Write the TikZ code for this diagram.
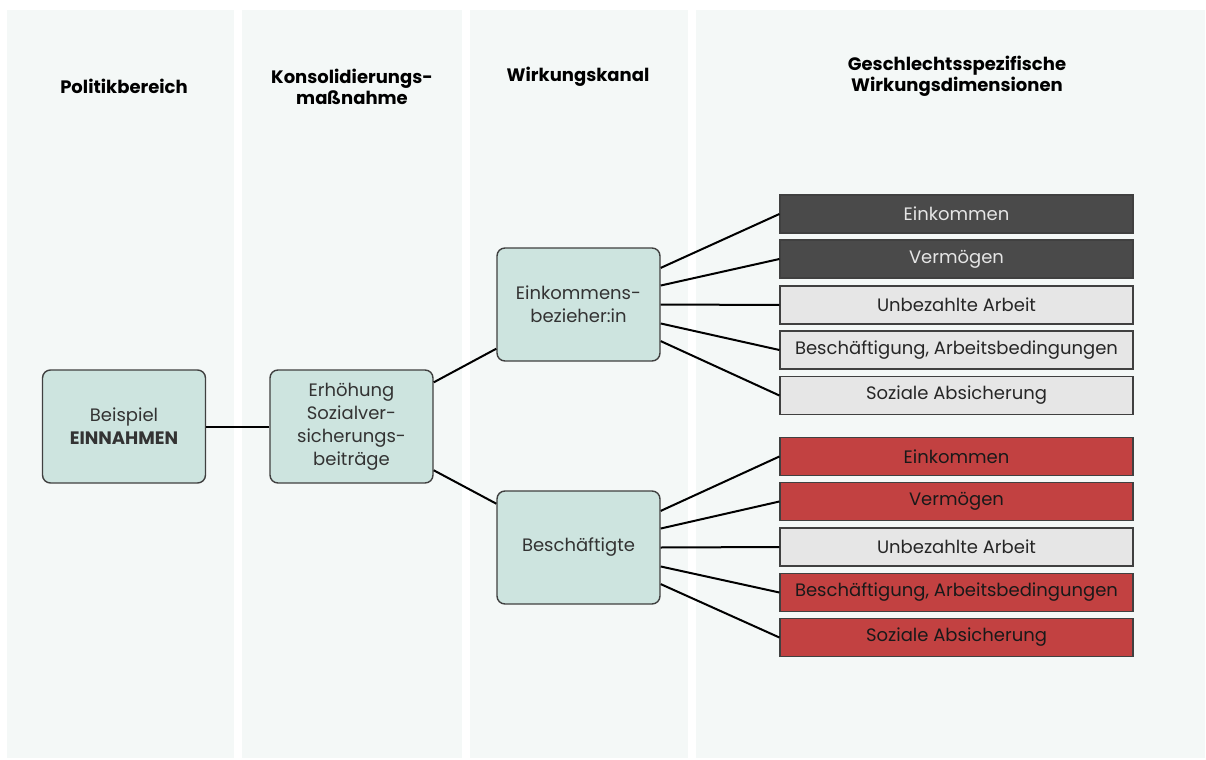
\documentclass[tikz,border=0pt]{standalone}
\usepackage{fontspec}
\setmainfont{Poppins}
\usepackage{tikz}

\definecolor{panel}{HTML}{F4F8F7}
\definecolor{tealbox}{HTML}{CDE4DF}
\definecolor{darkbox}{HTML}{4A4A4A}
\definecolor{lightbox}{HTML}{E6E6E6}
\definecolor{redbox}{HTML}{C24141}

\begin{document}
\begin{tikzpicture}
		[x=0.5pt,y=-0.5pt,
		 head/.style={font=\bfseries\fontsize{9}{10.5}\selectfont,align=center,text=black},
		 n/.style={draw=black!75,line width=0.7pt,rounded corners=4pt,fill=tealbox,
			minimum width=81.5pt,minimum height=56.5pt,inner sep=1pt,align=center,
			text=black!80,font=\fontsize{9}{11.5}\selectfont},
		 dim/.style={draw=black!75,line width=0.6pt,minimum width=176.5pt,minimum height=19pt,
			inner sep=0pt,font=\fontsize{9}{11}\selectfont},
		 dimdark/.style={dim,fill=darkbox,text=black!10},
		 dimlight/.style={dim,fill=lightbox,text=black!85},
		 dimred/.style={dim,fill=redbox,text=black!90},
		 conn/.style={line width=1pt,black}]

		\useasboundingbox (0,0) rectangle (1206,760);

		% column panels
		\fill[panel] (7,10) rectangle (234,758);
		\fill[panel] (242,10) rectangle (462,758);
		\fill[panel] (470,10) rectangle (688,758);
		\fill[panel] (696,10) rectangle (1205,758);

		% headers
		\node[head] (h1) at (124,86) {Politikbereich};
		\node[head] (h2) at (352,86.5) {Konsolidierungs-\\maßnahme};
		\node[head] (h3) at (578,77) {Wirkungskanal};
		\node[head] (h4) at (957,76.5) {Geschlechtsspezifische\\Wirkungsdimensionen};

		% boxes
		\node[n] (bsp) at (124,426.5) {Beispiel\\\textbf{EINNAHMEN}}
		;

		\node[n] (eh) at (351.5,426.5) {Erhöhung\\Sozialver-\\sicherungs-\\beiträge}
			edge [conn]	(bsp)
		;

		\node[n] (eb) at (578.5,304.5) {Einkommens-\\bezieher:in}
			edge [conn]	(eh)
		;

		\node[n] (bs) at (578.5,547.5) {Beschäftigte}
			edge [conn]	(eh)
		;

		% dimensions, first channel
		\node[dimdark] (a1) at (956.5,214) {Einkommen};
		\node[dimdark] (a2) at (956.5,259) {Vermögen};
		\node[dimlight] (a3) at (956.5,305) {Unbezahlte Arbeit};
		\node[dimlight] (a4) at (956.5,350) {Beschäftigung, Arbeitsbedingungen};
		\node[dimlight] (a5) at (956.5,395.5) {Soziale Absicherung};

		\draw[conn] (eb.24) -- (a1.west);
		\draw[conn] (eb.13) -- (a2.west);
		\draw[conn] (eb.0) -- (a3.west);
		\draw[conn] (eb.-13) -- (a4.west);
		\draw[conn] (eb.-24) -- (a5.west);

		% dimensions, second channel
		\node[dimred] (b1) at (956.5,456.5) {Einkommen};
		\node[dimred] (b2) at (956.5,501.5) {Vermögen};
		\node[dimlight] (b3) at (956.5,547) {Unbezahlte Arbeit};
		\node[dimred] (b4) at (956.5,592.5) {Beschäftigung, Arbeitsbedingungen};
		\node[dimred] (b5) at (956.5,637.5) {Soziale Absicherung};

		\draw[conn] (bs.24) -- (b1.west);
		\draw[conn] (bs.13) -- (b2.west);
		\draw[conn] (bs.0) -- (b3.west);
		\draw[conn] (bs.-13) -- (b4.west);
		\draw[conn] (bs.-24) -- (b5.west);

	\end{tikzpicture}
\end{document}
